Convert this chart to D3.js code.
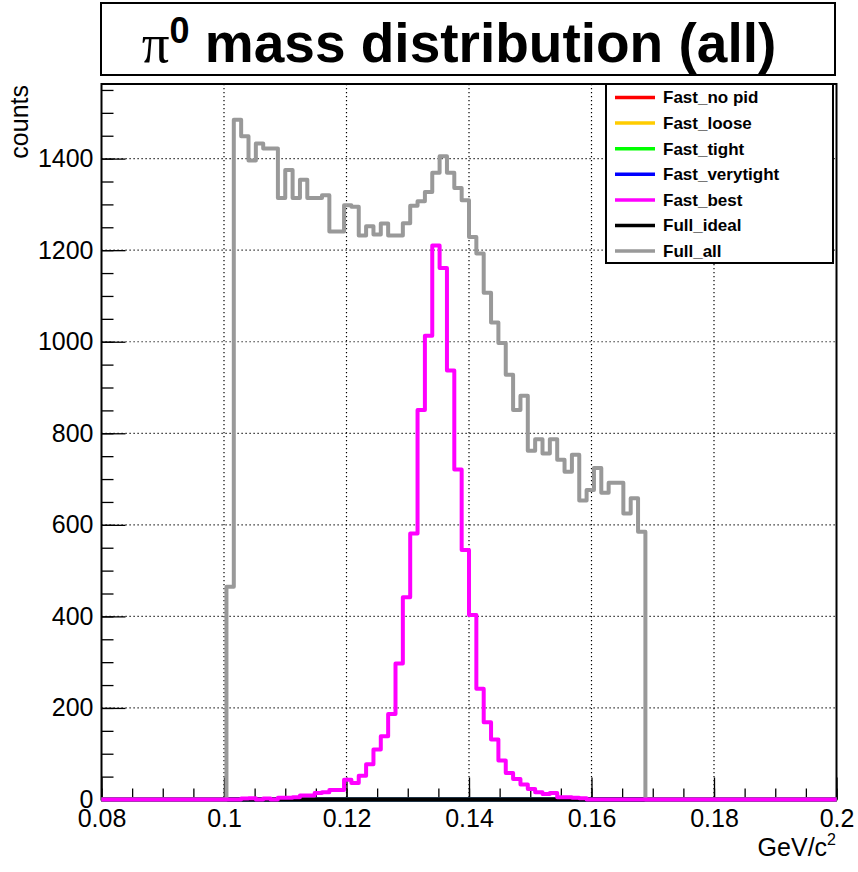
<!DOCTYPE html>
<html lang="en">
<head>
<meta charset="UTF-8">
<title>pi0 mass distribution</title>
<script src="https://cdn.jsdelivr.net/npm/d3@7"></script>
<style>
    body { margin: 0; background: #fff; }
    text { font-family: "Liberation Sans", Arial, Helvetica, sans-serif; }
</style>
</head>
<body>
<script>

    // histogram binning: 100 bins from 0.08 to 0.2 GeV/c^2
    var binLow = 0.08
    var binWidth = 0.0012
    var nBins = 100

    // series names shown in the legend (draw order differs, see below)
    var seriesNames = ["Fast_no pid", "Fast_loose", "Fast_tight", "Fast_verytight", "Fast_best", "Full_ideal", "Full_all"]

    // bin contents, starting at bin index given by *Start (all other bins are empty)
    var fastNoPid = []
    var fastLoose = []
    var fastTight = []
    var fastVerytight = []
    var fullIdeal = []

    var fullAllStart = 17
    var fullAll = [465, 1485, 1449, 1396, 1433, 1422, 1422, 1314, 1375, 1314,
        1354, 1314, 1314, 1320, 1241, 1241, 1298, 1295, 1232, 1252,
        1234, 1258, 1232, 1232, 1259, 1297, 1307, 1327, 1369, 1405,
        1369, 1336, 1309, 1229, 1193, 1107, 1042, 997, 928, 851,
        882, 762, 787, 756, 787, 742, 716, 753, 653, 676,
        724, 670, 692, 692, 625, 658, 585]

    var fastBestStart = 17
    var fastBest = [0, 0, 2, 3, 0, 2, 0, 4, 4, 5,
        9, 9, 14, 16, 21, 21, 43, 36, 52, 77,
        109, 138, 187, 297, 442, 581, 851, 1013, 1210, 1161,
        937, 721, 545, 403, 242, 169, 131, 85, 58, 45,
        33, 23, 16, 12, 14, 5, 5, 4, 3]

    var xTicks = [0.08, 0.1, 0.12, 0.14, 0.16, 0.18, 0.2]
    var yTicks = [0, 200, 400, 600, 800, 1000, 1200, 1400]

    var width = 858, height = 872
    var frame = {left: 101.5, right: 836.5, top: 84, bottom: 799.5}

    var svg = d3.select("body").append("svg")
        .attr("width", width)
        .attr("height", height)

    var xScale = d3.scaleLinear().domain([0.08, 0.2]).range([frame.left, frame.right])
    var yScale = d3.scaleLinear().domain([0, 1563]).range([frame.bottom, frame.top])

    // title box
    svg.append("rect")
        .attr("x", 101).attr("y", 3)
        .attr("width", 734).attr("height", 72)
        .attr("fill", "white").attr("stroke", "black").attr("stroke-width", 2)

    var title = svg.append("text")
        .attr("x", 459).attr("y", 62)
        .attr("text-anchor", "middle")
        .attr("font-size", "55px")
    title.append("tspan").style("font-family", "'Liberation Serif', 'Times New Roman', serif").text("π")
    title.append("tspan").attr("font-weight", "bold").attr("font-size", "36px").attr("dy", -19).text("0")
    title.append("tspan").attr("font-weight", "bold").attr("dy", 19).text(" mass distribution (all)")

    // grid
    var grid = svg.append("g")
    grid.selectAll(".gx").data(xTicks.slice(1, -1)).enter().append("line")
        .attr("x1", d => xScale(d)).attr("x2", d => xScale(d))
        .attr("y1", frame.top).attr("y2", frame.bottom)
        .attr("stroke", "black").attr("stroke-width", 1.2).attr("stroke-dasharray", "1.2,2.8")
    grid.selectAll(".gy").data(yTicks.slice(1)).enter().append("line")
        .attr("x1", frame.left).attr("x2", frame.right)
        .attr("y1", d => yScale(d)).attr("y2", d => yScale(d))
        .attr("stroke", "black").attr("stroke-width", 1.2).attr("stroke-dasharray", "1.2,2.8")

    // axes (ROOT style: ticks pointing into the frame)
    var xMinor = d3.range(0, 25).map(i => 0.08 + i * 0.005)
    var yMinor = d3.range(0, 32).map(i => i * 50)

    var axisX = svg.append("g").attr("transform", "translate(0," + frame.bottom + ")")
    axisX.call(d3.axisBottom(xScale).tickValues(xMinor).tickSize(-11).tickFormat(""))
    axisX.append("g").call(d3.axisBottom(xScale).tickValues(xTicks).tickSize(-22).tickPadding(10)
        .tickFormat(d => String(+d.toFixed(2))))

    var axisY = svg.append("g").attr("transform", "translate(" + frame.left + ",0)")
    axisY.call(d3.axisLeft(yScale).tickValues(yMinor).tickSize(-12).tickFormat(""))
    axisY.append("g").call(d3.axisLeft(yScale).tickValues(yTicks).tickSize(-24).tickPadding(8)
        .tickFormat(d3.format("d")))

    svg.selectAll(".domain").remove()
    svg.selectAll(".tick line").attr("stroke", "black").attr("stroke-width", 1.3)
    svg.selectAll(".tick text").attr("font-size", "25px").attr("fill", "black")
        .style("font-family", "'Liberation Sans', Arial, sans-serif")

    // frame
    svg.append("rect")
        .attr("x", frame.left).attr("y", frame.top)
        .attr("width", frame.right - frame.left).attr("height", frame.bottom - frame.top)
        .attr("fill", "none").attr("stroke", "black").attr("stroke-width", 2)

    // axis titles
    svg.append("text")
        .attr("transform", "translate(28,85) rotate(-90)")
        .attr("text-anchor", "end")
        .attr("font-size", "25px")
        .text("counts")

    var xt = svg.append("text")
        .attr("x", 836).attr("y", 856)
        .attr("text-anchor", "end")
        .attr("font-size", "25px")
    xt.append("tspan").text("GeV/c")
    xt.append("tspan").attr("font-size", "16px").attr("dy", -11).text("2")

    // histograms
    function fullBins(values, start) {
        var bins = new Array(nBins).fill(0)
        values.forEach(function (v, i) { bins[start + i] = v })
        return bins
    }

    var line = d3.line()
        .x(d => xScale(d[0]))
        .y(d => yScale(d[1]))
        .curve(d3.curveStepAfter)

    function histPoints(bins) {
        var pts = bins.map((v, i) => [binLow + i * binWidth, v])
        pts.push([binLow + nBins * binWidth, bins[nBins - 1]])
        return pts
    }

    var colors = {
        "Fast_no pid": "#ff0000",
        "Fast_loose": "#ffcc00",
        "Fast_tight": "#00ff00",
        "Fast_verytight": "#0000ff",
        "Fast_best": "#ff00ff",
        "Full_ideal": "#000000",
        "Full_all": "#999999"
    }

    var drawList = [
        ["Fast_no pid", fastNoPid, 0],
        ["Fast_loose", fastLoose, 0],
        ["Fast_tight", fastTight, 0],
        ["Fast_verytight", fastVerytight, 0],
        ["Full_ideal", fullIdeal, 0],
        ["Full_all", fullAll, fullAllStart],
        ["Fast_best", fastBest, fastBestStart]
    ]

    var hists = svg.append("g")
    drawList.forEach(function (s) {
        hists.append("path")
            .datum(histPoints(fullBins(s[1], s[2])))
            .attr("fill", "none")
            .attr("stroke", colors[s[0]])
            .attr("stroke-width", 4)
            .attr("stroke-linejoin", "round")
            .attr("d", line)
    })

    // legend
    var legend = svg.append("g")
    legend.append("rect")
        .attr("x", 606).attr("y", 84)
        .attr("width", 227).attr("height", 179)
        .attr("fill", "white").attr("stroke", "black").attr("stroke-width", 2)

    seriesNames.forEach(function (name, i) {
        var ly = 97.5 + i * 25.6
        legend.append("line")
            .attr("x1", 615).attr("x2", 655)
            .attr("y1", ly).attr("y2", ly)
            .attr("stroke", colors[name]).attr("stroke-width", 3.5)
        legend.append("text")
            .attr("x", 663).attr("y", ly)
            .attr("dy", "0.35em")
            .attr("font-size", "17px")
            .attr("font-weight", "bold")
            .text(name)
    })

</script>
</body>
</html>
